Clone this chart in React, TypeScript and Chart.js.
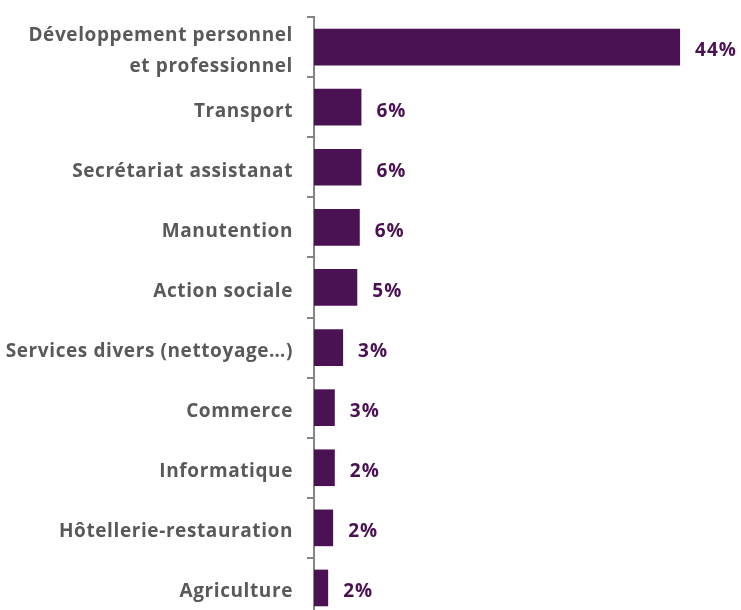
import React, { useEffect, useRef } from "react";
import { Chart, registerables, Plugin } from "chart.js";

Chart.register(...registerables);

const categories: (string | string[])[] = [
  ["Développement personnel", "et professionnel"],
  "Transport",
  "Secrétariat assistanat",
  "Manutention",
  "Action sociale",
  "Services divers (nettoyage…)",
  "Commerce",
  "Informatique",
  "Hôtellerie-restauration",
  "Agriculture",
];
const shares = [44, 5.7, 5.7, 5.5, 5.2, 3.5, 2.5, 2.5, 2.3, 1.7];
const shareLabels = ["44%", "6%", "6%", "6%", "5%", "3%", "3%", "2%", "2%", "2%"];

const PURPLE = "#4a1252";
const GREY = "#595959";
const FONT = "'Open Sans', sans-serif";

// the source text is set a little loose, so widen the canvas letter spacing
const looseText: Plugin<"bar"> = {
  id: "looseText",
  afterLayout(chart) {
    // category labels sit a few px below the bar centres in the original
    const items = (chart.scales.y as any).getLabelItems();
    items.forEach((it: any) => {
      it.options.translation[1] += 4;
    });
  },
  beforeDraw(chart) {
    (chart.ctx as any).letterSpacing = "0.6px";
  },
};

// writes the percentage just right of each bar
const valueLabels: Plugin<"bar"> = {
  id: "valueLabels",
  afterDatasetsDraw(chart) {
    const ctx = chart.ctx;
    const meta = chart.getDatasetMeta(0);
    ctx.save();
    (ctx as any).letterSpacing = "1px";
    ctx.font = `bold 19px ${FONT}`;
    ctx.fillStyle = PURPLE;
    ctx.textAlign = "left";
    ctx.textBaseline = "middle";
    meta.data.forEach((bar, i) => {
      ctx.fillText(shareLabels[i], bar.x + 15, bar.y + 4);
    });
    ctx.restore();
  },
};

export default function App() {
  const canvasRef = useRef<HTMLCanvasElement | null>(null);

  useEffect(() => {
    document.body.style.margin = "0";
    if (!canvasRef.current) return;
    const chart = new Chart(canvasRef.current, {
      type: "bar",
      data: {
        labels: categories,
        datasets: [
          {
            data: shares,
            backgroundColor: PURPLE,
            barPercentage: 0.61,
            categoryPercentage: 1,
          },
        ],
      },
      options: {
        indexAxis: "y",
        animation: false,
        responsive: true,
        maintainAspectRatio: false,
        layout: { padding: { top: 17, bottom: 7, right: 11, left: 0 } },
        plugins: {
          legend: { display: false },
          tooltip: { enabled: false },
        },
        scales: {
          x: { display: false, min: 0, max: 50 },
          y: {
            afterFit: (scale) => {
              scale.width = 314;
              scale.paddingTop = 0;
              scale.paddingBottom = 0;
            },
            border: { color: "#868686", width: 2 },
            grid: {
              drawOnChartArea: false,
              color: "#868686",
              lineWidth: 2,
              tickLength: 7,
            },
            ticks: {
              autoSkip: false,
              color: GREY,
              padding: 14,
              font: { family: FONT, size: 19, weight: "bold", lineHeight: 1.6 },
            },
          },
        },
      },
      plugins: [looseText, valueLabels],
    });
    return () => chart.destroy();
  }, []);

  return (
    <div style={{ width: 741, height: 610, overflow: "hidden" }}>
      <div style={{ width: 741, height: 625, position: "relative" }}>
        <canvas ref={canvasRef} />
      </div>
    </div>
  );
}
